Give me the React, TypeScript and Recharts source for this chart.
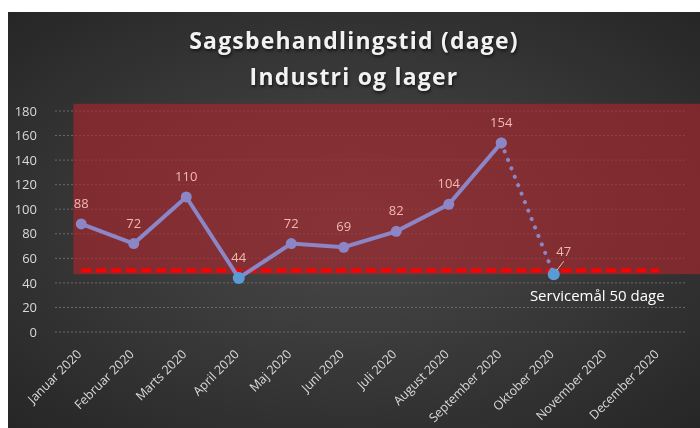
import { LineChart, Line, XAxis, YAxis, CartesianGrid, ReferenceArea } from 'recharts'

const months = [
  'Januar 2020', 'Februar 2020', 'Marts 2020', 'April 2020', 'Maj 2020', 'Juni 2020',
  'Juli 2020', 'August 2020', 'September 2020', 'Oktober 2020', 'November 2020', 'December 2020',
]
const actual = [88, 72, 110, 44, 72, 69, 82, 104, 154, null, null, null]
const projected = [null, null, null, null, null, null, null, null, 154, 47, null, null]
const target = [50, 50, 50, 50, 50, 50, 50, 50, 50, 50, 50, 50]
const yTicks = [0, 20, 40, 60, 80, 100, 120, 140, 160, 180]
const zoneLow = 47
const zoneHigh = 186

const data = months.map((m, i) => ({ month: m, actual: actual[i], projected: projected[i], target: target[i] }))

const FONT = '"Open Sans", sans-serif'
const LINE = '#8c85c6'
const BLUE = '#5b9bd5'
const LABEL = '#f2b8b0'

function MonthTick({ x, y, payload }: any) {
  return (
    <g transform={`translate(${x + 1},${y + 21})`}>
      <text transform="rotate(-45)" textAnchor="end" fill="#d9d9d9" fontSize={12.5} fontFamily={FONT}>
        {payload.value}
      </text>
    </g>
  )
}

function ValueDot({ cx, cy, index, value }: any) {
  if (cx == null || cy == null || value == null) return null
  const v = Array.isArray(value) ? value[1] : value
  const below = v < target[index]
  return <circle key={index} cx={cx} cy={cy} r={below ? 6 : 5.5} fill={below ? BLUE : LINE} />
}

function ActualLabel({ x, y, value }: any) {
  if (value == null) return null
  return (
    <text x={x} y={y - 16} textAnchor="middle" fill={LABEL} fontSize={13} fontFamily={FONT}>
      {value}
    </text>
  )
}

function ProjectedLabel({ x, y, value, index }: any) {
  if (value == null || index !== 9) return null
  return (
    <g>
      <line x1={x + 3} y1={y - 4} x2={x + 10} y2={y - 13} stroke={LABEL} strokeWidth={1} />
      <text x={x + 10} y={y - 18} textAnchor="middle" fill={LABEL} fontSize={13} fontFamily={FONT}>
        {value}
      </text>
    </g>
  )
}

function TargetLabel({ x, y, index }: any) {
  if (index !== 10) return null
  return (
    <text x={x - 9} y={y + 30} textAnchor="middle" fill="#ffffff" fontSize={15} fontFamily={FONT}>
      Servicemål 50 dage
    </text>
  )
}

export default function App() {
  return (
    <div
      style={{
        position: 'fixed',
        left: 8,
        top: 12,
        width: 692,
        height: 416,
        background: 'radial-gradient(ellipse at 50% 50%, #4a4a4a 0%, #3a3a3a 45%, #262626 100%)',
        fontFamily: FONT,
      }}
    >
      <div
        style={{
          position: 'absolute',
          left: 0,
          right: 0,
          top: 10,
          textAlign: 'center',
          color: '#f2f2f2',
          fontWeight: 700,
          fontSize: 23,
          lineHeight: '36px',
          letterSpacing: 1.2,
          textShadow: '1px 2px 3px rgba(0,0,0,0.6)',
        }}
      >
        <div>Sagsbehandlingstid (dage)</div>
        <div>Industri og lager</div>
      </div>
      <LineChart
        width={692}
        height={416}
        data={data}
        margin={{ top: 99, right: 15, left: 0, bottom: 0 }}
        style={{ position: 'absolute', left: 0, top: 0 }}
      >
        <CartesianGrid vertical={false} stroke="#6a6a6a" strokeDasharray="2 2" />
        <XAxis
          dataKey="month"
          scale="band"
          interval={0}
          height={96}
          tickLine={false}
          axisLine={false}
          tickSize={0}
          tick={<MonthTick />}
        />
        <XAxis xAxisId="deco" type="number" domain={[0, 12]} allowDataOverflow hide />
        <YAxis
          domain={[0, 180]}
          ticks={yTicks}
          width={47}
          tickLine={false}
          axisLine={false}
          tickMargin={12}
          tick={{ fill: '#d9d9d9', fontSize: 13, fontFamily: FONT }}
        />
        <ReferenceArea
          xAxisId="deco"
          x1={0.32}
          x2={12.11}
          y1={zoneLow}
          y2={zoneHigh}
          ifOverflow="visible"
          fill="#a8262c"
          fillOpacity={0.65}
          stroke="none"
        />
        <Line
          dataKey="target"
          stroke="#ff0000"
          strokeWidth={4}
          strokeDasharray="10 5"
          dot={false}
          activeDot={false}
          label={<TargetLabel />}
          isAnimationActive={false}
        />
        <Line
          dataKey="projected"
          stroke={LINE}
          strokeWidth={4}
          strokeDasharray="0.1 9"
          strokeLinecap="round"
          dot={false}
          activeDot={false}
          label={<ProjectedLabel />}
          isAnimationActive={false}
        />
        <Line
          dataKey="actual"
          stroke={LINE}
          strokeWidth={4}
          dot={<ValueDot />}
          activeDot={false}
          label={<ActualLabel />}
          isAnimationActive={false}
        />
        <Line
          dataKey="projected"
          stroke="none"
          dot={<ValueDot />}
          activeDot={false}
          legendType="none"
          isAnimationActive={false}
        />
      </LineChart>
    </div>
  )
}
